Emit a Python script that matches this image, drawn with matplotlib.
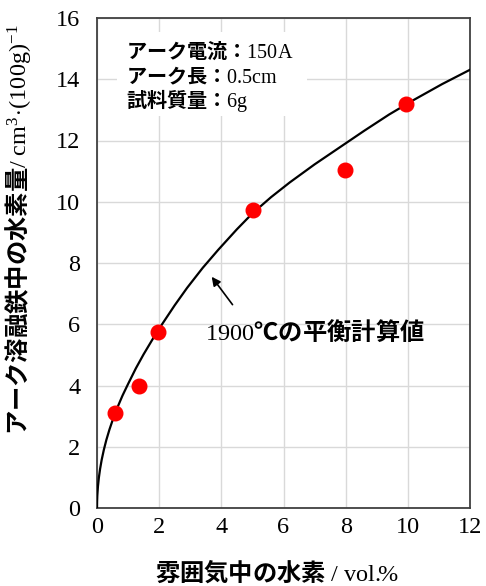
import matplotlib
matplotlib.use("Agg")
import matplotlib.pyplot as plt
from matplotlib.patches import Rectangle

plt.rcParams['font.family'] = ['Noto Sans CJK JP', 'DejaVu Sans']
plt.rcParams['mathtext.fontset'] = 'custom'
plt.rcParams['mathtext.rm'] = 'Liberation Serif'
plt.rcParams['mathtext.it'] = 'Liberation Serif:italic'
plt.rcParams['mathtext.bf'] = 'Liberation Serif:bold'

# Measured hydrogen content of arc-melted iron
h2_vol = [0.58, 1.36, 1.95, 5.02, 7.97, 9.94]
h_content = [3.10, 3.97, 5.75, 9.73, 11.04, 13.20]

# Equilibrium calculation at 1900 C
calc_h2 = [0, 0.003, 0.01, 0.03, 0.06, 0.1, 0.15, 0.22, 0.3, 0.4, 0.52, 0.66,
           0.82, 1.0, 1.25, 1.5, 1.8, 2.1, 2.5, 2.9, 3.4, 3.9, 4.5, 5.0, 5.6,
           6.2, 7.0, 7.8, 8.6, 9.4, 10.2, 11.1, 12.0]
calc_h = [0, 0.22, 0.41, 0.70, 0.99, 1.28, 1.57, 1.90, 2.22, 2.56, 2.92, 3.29,
          3.67, 4.05, 4.56, 5.02, 5.53, 6.01, 6.62, 7.19, 7.84, 8.43, 9.10, 9.62,
          10.15, 10.63, 11.22, 11.77, 12.32, 12.85, 13.33, 13.84, 14.31]

x_ticks = [0, 2, 4, 6, 8, 10, 12]
y_ticks = [0, 2, 4, 6, 8, 10, 12, 14, 16]

conditions = ['アーク電流：$\\mathrm{150A}$',
              'アーク長：$\\mathrm{0.5cm}$',
              '試料質量：$\\mathrm{6g}$']

fig = plt.figure(figsize=(4.86, 5.86), dpi=100)
ax = fig.add_axes([97 / 486, 78 / 586, 373 / 486, 490 / 586])

ax.set_xlim(0, 12)
ax.set_ylim(0, 16)
ax.set_xticks(x_ticks)
ax.set_yticks(y_ticks)
ax.set_xticklabels([str(v) for v in x_ticks], family='Liberation Serif', fontsize=17.5)
ax.set_yticklabels([str(v) for v in y_ticks], family='Liberation Serif', fontsize=17.5)
ax.tick_params(axis='x', length=0, pad=6.5)
ax.tick_params(axis='y', length=0, pad=12)

ax.grid(True, color='#d9d9d9', linewidth=1.0)
ax.set_axisbelow(True)
for sp in ax.spines.values():
    sp.set_color('#404040')
    sp.set_linewidth(1.3)

ax.plot(calc_h2, calc_h, color='black', linewidth=1.6, zorder=3,
        solid_joinstyle='round')
ax.plot(h2_vol, h_content, linestyle='none', marker='o', markersize=10.5,
        color='#ff0000', markeredgecolor='#ff0000', zorder=4)

# White panel behind the test conditions
ax.add_patch(Rectangle((0.64, 12.79), 6.11, 2.74, facecolor='white',
                       edgecolor='none', zorder=2))
for i, line in enumerate(conditions):
    ax.text(0.945, 14.92 - 0.815 * i, line, fontsize=14.5, fontweight='bold',
            ha='left', va='center', zorder=5)

ax.annotate('', xy=(3.69, 7.55), xytext=(4.36, 6.64),
            arrowprops=dict(arrowstyle='-|>', color='black', lw=1.2,
                            mutation_scale=13, shrinkA=0, shrinkB=0), zorder=5)
ax.text(3.46, 5.75, '$\\mathrm{1900}$℃の平衡計算値', fontsize=17.5,
        fontweight='bold', ha='left', va='center', zorder=5)

fig.text(277 / 486, 1 - 572 / 586,
         '雰囲気中の水素 $\\mathrm{/\\ vol.\\!\\!\\%}$',
         fontsize=17.5, fontweight='bold', ha='center', va='center')
fig.text(18 / 486, 1 - 230 / 586,
         'アーク溶融鉄中の水素量$\\mathrm{/\\ cm^{3}\\!\\cdot\\!(100g)^{-1}}$',
         fontsize=17.5, fontweight='bold', rotation=90, ha='center', va='center')

fig.savefig('out.png', dpi=100)
